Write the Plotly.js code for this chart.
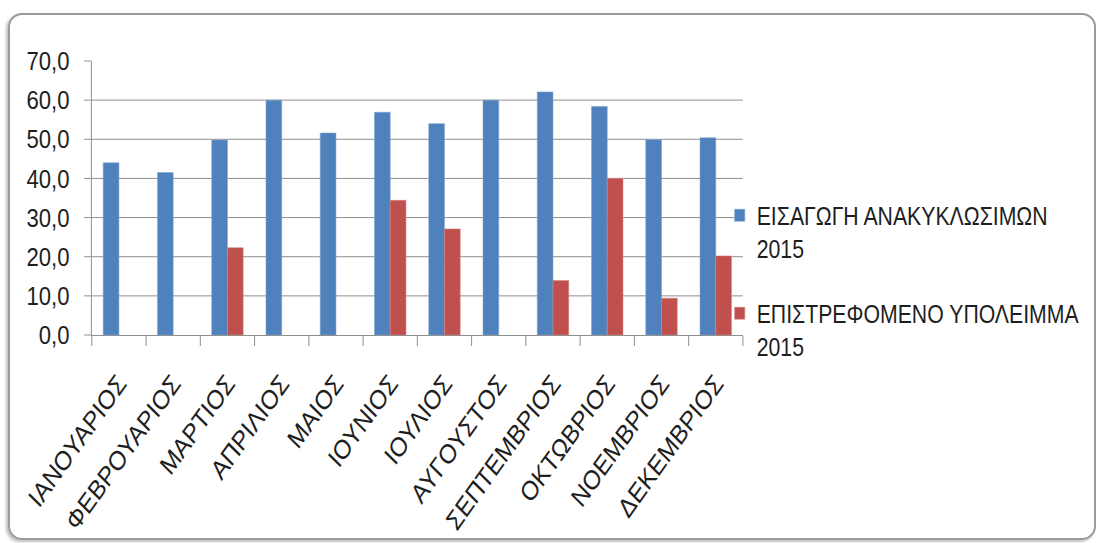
<!DOCTYPE html>
<html>
<head>
<meta charset="utf-8">
<script src="https://cdn.plot.ly/plotly-3.0.1.min.js"></script>
<style>
  html, body { margin: 0; padding: 0; background: #fff; width: 1098px; height: 543px; overflow: hidden; }
  #frame { position: absolute; left: 8px; top: 13px; width: 1084px; height: 523px;
           border: 2px solid #9a9a9a; border-radius: 14px;
           box-shadow: -2px 2px 3px rgba(0,0,0,0.25); pointer-events: none; }
  #chart { position: absolute; left: 0; top: 0; width: 1292px; height: 543px;
           transform: scaleX(0.85); transform-origin: 0 0; }
</style>
</head>
<body>
<div id="frame"></div>
<div id="chart"></div>
<script>
const months = ["ΙΑΝΟΥΑΡΙΟΣ","ΦΕΒΡΟΥΑΡΙΟΣ","ΜΑΡΤΙΟΣ","ΑΠΡΙΛΙΟΣ","ΜΑΙΟΣ","ΙΟΥΝΙΟΣ","ΙΟΥΛΙΟΣ","ΑΥΓΟΥΣΤΟΣ","ΣΕΠΤΕΜΒΡΙΟΣ","ΟΚΤΩΒΡΙΟΣ","ΝΟΕΜΒΡΙΟΣ","ΔΕΚΕΜΒΡΙΟΣ"];
const importValues = [44.0, 41.5, 49.8, 60.0, 51.6, 56.9, 54.0, 60.0, 62.1, 58.4, 49.9, 50.4];
const returnValues = [null, null, 22.3, null, null, 34.4, 27.1, null, 13.9, 40.0, 9.4, 20.2];
const seriesNames = ["ΕΙΣΑΓΩΓΗ ΑΝΑΚΥΚΛΩΣΙΜΩΝ<br>2015", "ΕΠΙΣΤΡΕΦΟΜΕΝΟ ΥΠΟΛΕΙΜΜΑ<br>2015"];

const FONT = "'Liberation Sans', Arial, sans-serif";
const TXT = "#1e1e1e";

const traces = [
  { type: "bar", x: months, y: importValues, name: seriesNames[0], legendgroup: "a",
    marker: { color: "#4F81BD", line: { color: "#7fa3d0", width: 0.6 } }, hoverinfo: "x+y" },
  { type: "bar", x: months, y: returnValues, name: seriesNames[1], legendgroup: "b",
    marker: { color: "#C0504D", line: { color: "#d88381", width: 0.6 } }, hoverinfo: "x+y" }
];

const layout = {
  width: 1292, height: 543,
  margin: { l: 108, r: 418, t: 61, b: 208, pad: 0 },
  paper_bgcolor: "rgba(0,0,0,0)", plot_bgcolor: "rgba(0,0,0,0)",
  separators: ",.",
  font: { family: FONT, size: 24, color: TXT },
  barmode: "group", bargap: 0.42, bargroupgap: 0,
  showlegend: true,
  legend: { x: 0.969, xanchor: "left", y: 0.52, yanchor: "top",
            font: { family: FONT, size: 25, color: TXT },
            traceorder: "grouped", tracegroupgap: 30, valign: "top",
            itemwidth: 30, bgcolor: "rgba(0,0,0,0)" },
  xaxis: {
    type: "category", tickson: "boundaries", ticks: "outside", ticklen: 10, tickwidth: 1,
    tickcolor: "#868686", showline: true, linecolor: "#868686", linewidth: 1,
    tickangle: -50, ticklabelstandoff: 21, showgrid: false,
    tickfont: { family: FONT, size: 27, color: TXT }
  },
  yaxis: {
    range: [0, 70], dtick: 10, tick0: 0, tickformat: ".1f",
    ticks: "outside", ticklen: 8, tickwidth: 1, tickcolor: "#868686",
    showline: true, linecolor: "#868686", linewidth: 1,
    showgrid: true, gridcolor: "#868686", gridwidth: 1, zeroline: false,
    tickfont: { family: FONT, size: 26, color: TXT }, ticklabelstandoff: 12
  }
};

Plotly.newPlot("chart", traces, layout, { displayModeBar: false, staticPlot: true });
</script>
</body>
</html>
